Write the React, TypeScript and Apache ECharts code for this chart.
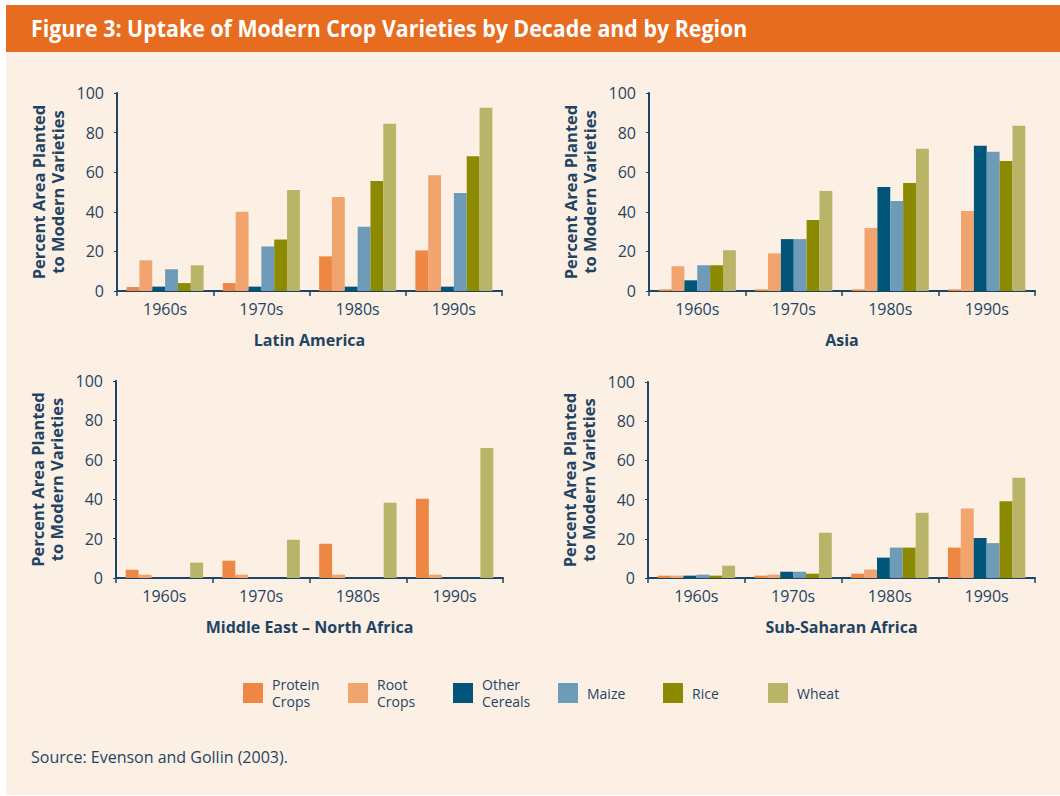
import React, { useEffect, useRef } from "react";
import * as echarts from "echarts";

const decades = ["1960s", "1970s", "1980s", "1990s"];
const cropNames = ["Protein Crops", "Root Crops", "Other Cereals", "Maize", "Rice", "Wheat"];
const cropLegendLabels = ["Protein\nCrops", "Root\nCrops", "Other\nCereals", "Maize", "Rice", "Wheat"];
const cropColors = ["#EE8743", "#F2A46F", "#02557A", "#6E9CB8", "#8C8A00", "#B9B468"];
const regions = ["Latin America", "Asia", "Middle East \u2013 North Africa", "Sub-Saharan Africa"];

// values per region: [protein, root, other cereals, maize, rice, wheat] for each decade
const latinAmerica = {
  protein: [2, 4, 17.5, 20.5],
  root: [15.5, 40, 47.5, 58.5],
  other: [2.2, 2.2, 2.2, 2.2],
  maize: [11, 22.5, 32.5, 49.5],
  rice: [4, 26, 55.5, 68],
  wheat: [13, 51, 84.5, 92.5],
};
const asia = {
  protein: [0.8, 0.8, 0.8, 0.8],
  root: [12.5, 19, 31.8, 40.4],
  other: [5.4, 26.2, 52.5, 73.3],
  maize: [13, 26.2, 45.4, 70.3],
  rice: [13, 35.8, 54.6, 65.7],
  wheat: [20.6, 50.5, 71.8, 83.4],
};
const menaRegion = {
  protein: [4.2, 8.8, 17.4, 40.2],
  root: [1.7, 1.7, 1.7, 1.7],
  other: [null, null, null, null],
  maize: [null, null, null, null],
  rice: [null, null, null, null],
  wheat: [7.8, 19.4, 38.2, 66],
};
const subSaharan = {
  protein: [1.2, 1.2, 2.2, 15.5],
  root: [1.2, 1.7, 4.3, 35.4],
  other: [1.2, 3.2, 10.4, 20.4],
  maize: [1.7, 3.2, 15.5, 17.8],
  rice: [1.2, 2.2, 15.5, 39.1],
  wheat: [6.3, 23.1, 33.3, 51.2],
};
const regionData = [latinAmerica, asia, menaRegion, subSaharan];
const cropKeys = ["protein", "root", "other", "maize", "rice", "wheat"];

const navy = "#1B4465";
const textNavy = "#1F4463";

export default function App() {
  const ref = useRef<HTMLDivElement>(null);
  useEffect(() => {
    if (!ref.current) return;
    const chart = echarts.init(ref.current, undefined, { renderer: "svg" });
    const grids = [
      { left: 117, top: 93, width: 385, height: 198 },
      { left: 649, top: 93, width: 386, height: 198 },
      { left: 116, top: 381, width: 387, height: 197 },
      { left: 648, top: 382, width: 387, height: 196 },
    ];
    const font = "'Open Sans', 'Noto Sans', sans-serif";
    const xAxes = regions.map((r, i) => ({
      type: "category",
      gridIndex: i,
      data: decades,
      axisLine: { lineStyle: { color: navy, width: 2 } },
      axisTick: { show: true, length: 5, lineStyle: { color: navy, width: 1.5 } },
      axisLabel: { fontSize: 16, color: textNavy, margin: 10, fontFamily: font },
      name: r,
      nameLocation: "middle",
      nameGap: 41,
      nameTextStyle: { fontSize: 16, fontWeight: "bold", color: textNavy, fontFamily: font },
    }));
    const yAxes = regions.map((_, i) => ({
      type: "value",
      gridIndex: i,
      min: 0,
      max: 100,
      interval: 20,
      splitLine: { show: false },
      axisLine: { show: true, lineStyle: { color: navy, width: 2 } },
      axisTick: { show: true, length: 3, lineStyle: { color: navy, width: 1 } },
      axisLabel: { fontSize: 16, color: textNavy, margin: 13, fontFamily: font },
      name: "Percent Area Planted\nto Modern Varieties",
      nameLocation: "middle",
      nameRotate: 90,
      nameGap: 50,
      nameTextStyle: { fontSize: 16.5, fontWeight: "bold", color: textNavy, lineHeight: 19, fontFamily: font },
    }));
    const series: any[] = [];
    regionData.forEach((rd: any, gi) => {
      cropKeys.forEach((k, ci) => {
        series.push({
          type: "bar",
          name: cropNames[ci],
          xAxisIndex: gi,
          yAxisIndex: gi,
          data: rd[k],
          barGap: "0%",
          barCategoryGap: "20%",
          itemStyle: { color: cropColors[ci] },
        });
      });
    });
    chart.setOption({
      animation: false,
      backgroundColor: "#FFFFFF",
      color: cropColors,
      graphic: [
        { type: "rect", z: -10, shape: { x: 6, y: 52, width: 1054, height: 743 }, style: { fill: "#FCF0E5" } },
        { type: "rect", z: -10, shape: { x: 6, y: 5, width: 1054, height: 47 }, style: { fill: "#E86C1F" } },
        {
          type: "text",
          x: 31,
          y: 28,
          scaleX: 0.93,
          style: {
            text: "Figure 3: Uptake of Modern Crop Varieties by Decade and by Region",
            fill: "#FFFFFF",
            font: "bold 23px 'Open Sans', sans-serif",
            verticalAlign: "middle",
          },
        },
        {
          type: "text",
          x: 31,
          y: 757,
          style: {
            text: "Source: Evenson and Gollin (2003).",
            fill: textNavy,
            font: "16px 'Open Sans', sans-serif",
            verticalAlign: "middle",
          },
        },
      ],
      legend: {
        data: cropNames,
        left: 243,
        top: 676,
        padding: 0,
        itemWidth: 20,
        itemHeight: 20,
        itemGap: 14,
        icon: "rect",
        selectedMode: false,
        formatter: (n: string) => cropLegendLabels[cropNames.indexOf(n)],
        textStyle: {
          fontSize: 14,
          color: textNavy,
          lineHeight: 17,
          width: 62,
          padding: [0, 0, 0, 4],
          fontFamily: font,
        },
      },
      grid: grids.map((g) => ({ ...g, outerBoundsMode: "none" })),
      xAxis: xAxes,
      yAxis: yAxes,
      series,
    });
    return () => chart.dispose();
  }, []);
  return (
    <div
      ref={ref}
      style={{ position: "absolute", left: 0, top: 0, width: 1060, height: 796 }}
    />
  );
}
